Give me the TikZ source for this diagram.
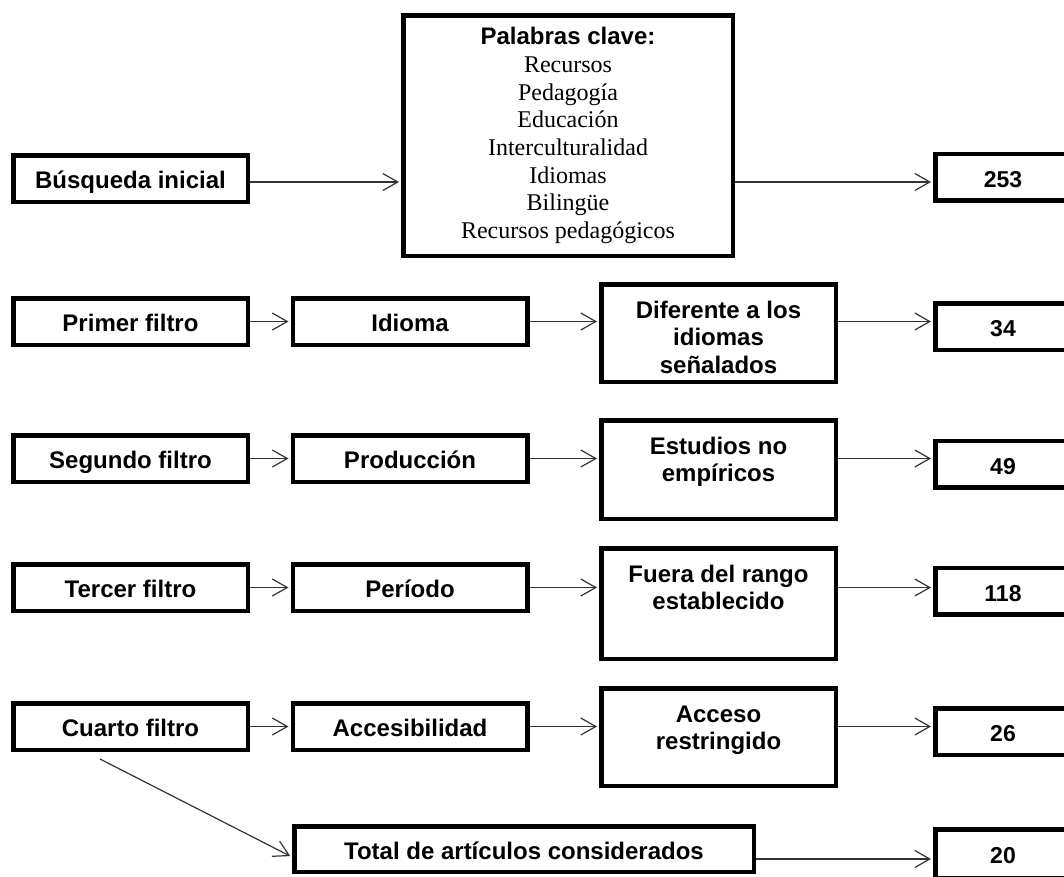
\documentclass[tikz,border=0pt]{standalone}
\usepackage{fontspec}
\setmainfont{Liberation Serif}
\setsansfont{Liberation Sans}
\usetikzlibrary{arrows.meta}
\newcommand{\boxfont}{\sffamily\bfseries\fontsize{24}{27.5}\selectfont}
\newcommand{\numfont}{\sffamily\bfseries\fontsize{23}{27.5}\selectfont}
\newcommand{\kwf}{\rmfamily\mdseries\fontsize{24}{27.7}\selectfont}
\newcommand{\topbox}[3]{\parbox[c][#1][t]{#2}{\centering\vspace*{14.5pt}\strut #3}}
\tikzset{
  box/.style={draw=black, line width=4.5pt, inner sep=0pt, font=\boxfont, align=center},
  onebox/.style={box, text height=20pt, text depth=0pt},
  rowbox/.style={onebox, minimum width=234.5pt, minimum height=46.5pt},
  numbox/.style={onebox, font=\numfont, minimum width=135.5pt, minimum height=46.5pt},
  conn/.style={draw=black!80, line width=1.2pt, shorten >=2pt,
    -{Straight Barb[length=15pt,width=17pt,line width=1.2pt]}},
}
\begin{document}
\begin{tikzpicture}[x=1pt,y=-1pt]
\fill[white] (0,0) rectangle (1064,876);
\useasboundingbox (0,0) rectangle (1064,876);

% row 0
\node[rowbox] (bus) at (130.5,178.5) {Búsqueda inicial};
\node[box, font=\sffamily\bfseries\fontsize{24}{27.7}\selectfont,
      minimum width=329.5pt, minimum height=240.5pt] (kw) at (568,135.5)
  {Palabras clave:\\
   \kwf Recursos\\ \kwf Pedagogía\\ \kwf Educación\\ \kwf Interculturalidad\\
   \kwf Idiomas\\ \kwf Bilingüe\\ \kwf Recursos pedagógicos};
\node[numbox] (n253) at (1003,177) {253};
\coordinate (r0) at (0,182);

% row 1
\node[rowbox] (pf) at (130.5,321.5) {Primer filtro};
\node[rowbox] (idi) at (410,321.5) {Idioma};
\node[box] (dif) at (718.5,333) {\topbox{97.5pt}{234.5pt}{Diferente a los\\idiomas\\señalados}};
\node[numbox] (n34) at (1003,326.5) {34};

% row 2
\node[rowbox] (sf) at (130.5,458.5) {Segundo filtro};
\node[rowbox] (prod) at (410,458.5) {Producción};
\node[box] (est) at (718.5,469.5) {\topbox{98.5pt}{234.5pt}{Estudios no\\empíricos}};
\node[numbox] (n49) at (1003,464) {49};

% row 3
\node[rowbox] (tf) at (130.5,587.5) {Tercer filtro};
\node[rowbox] (per) at (410,587.5) {Período};
\node[box] (fue) at (718.5,603.5) {\topbox{110.5pt}{234.5pt}{Fuera del rango\\establecido}};
\node[numbox] (n118) at (1003,591) {118};

% row 4
\node[rowbox] (cf) at (130.5,726.5) {Cuarto filtro};
\node[rowbox] (acc) at (410,726.5) {Accesibilidad};
\node[box] (acs) at (718.5,737) {\topbox{97.5pt}{234.5pt}{Acceso\\restringido}};
\node[numbox] (n26) at (1003,731.5) {26};

% row 5
\node[onebox, minimum width=459.5pt, minimum height=45.5pt] (tot) at (524,849) {Total de artículos considerados};
\node[numbox, minimum height=48.5pt] (n20) at (1003,853.5) {20};
\coordinate (r5) at (0,859);

% connectors
\draw[conn] (bus.east |- r0) -- (kw.west |- r0);
\draw[conn] (kw.east |- r0) -- (n253.west |- r0);

\draw[conn] (pf.east) -- (idi.west);
\draw[conn] (idi.east) -- (idi.east -| dif.west);
\draw[conn] (idi.east -| dif.east) -- (idi.east -| n34.west);

\draw[conn] (sf.east) -- (prod.west);
\draw[conn] (prod.east) -- (prod.east -| est.west);
\draw[conn] (prod.east -| est.east) -- (prod.east -| n49.west);

\draw[conn] (tf.east) -- (per.west);
\draw[conn] (per.east) -- (per.east -| fue.west);
\draw[conn] (per.east -| fue.east) -- (per.east -| n118.west);

\draw[conn] (cf.east) -- (acc.west);
\draw[conn] (acc.east) -- (acc.east -| acs.west);
\draw[conn] (acc.east -| acs.east) -- (acc.east -| n26.west);

\draw[conn] ([xshift=-30.5pt,yshift=-7pt]cf.south) -- ([yshift=-8pt]tot.west);
\draw[conn] (tot.east |- r5) -- (n20.west |- r5);
\end{tikzpicture}
\end{document}
